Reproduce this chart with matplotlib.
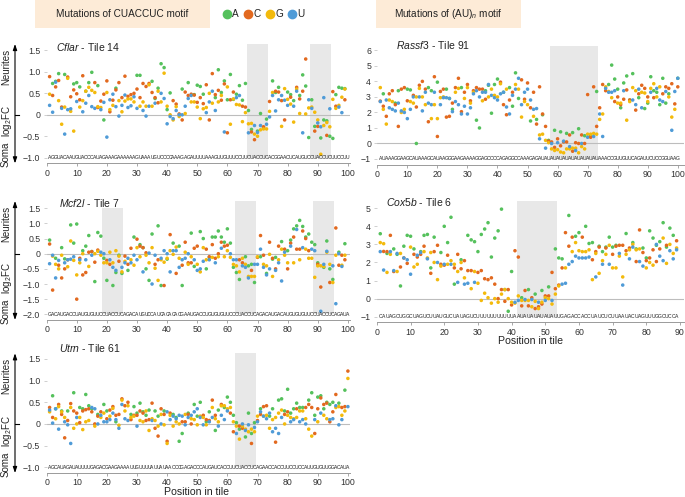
import matplotlib
matplotlib.use("Agg")
import matplotlib.pyplot as plt
import matplotlib.transforms as mtransforms
from matplotlib.patches import Rectangle
from matplotlib.lines import Line2D

plt.rcParams['font.family'] = ['Liberation Sans', 'DejaVu Sans']
plt.rcParams['mathtext.fontset'] = 'custom'
plt.rcParams['mathtext.rm'] = 'Liberation Sans'
plt.rcParams['mathtext.it'] = 'Liberation Sans:italic'

W, H = 685, 497

BASES = ['A', 'C', 'G', 'U']
BASE_COLORS = {'A': '#55c15c', 'C': '#e2691f', 'G': '#f3ba0c', 'U': '#4f9bd7'}

# ---- data: three mutant values per position (non wild-type bases, in A/C/G/U order)
cflar_seq = "AGGUACAAUGUACCCAUAGAAAGAAAAAAGUAAAUGUCCCCAAAGAGAUUUUAAAGUUGUUUCCUUCUACCUCACGGAACUCAUGUCCUACCUCUUCCUU"
cflar_motifs = [(67, 73), (88, 94)]
cflar_m1 = [0.89, 0.73, 0.78, 0.96, 0.18, 0.94, 0.88, 0.42, 0.72, 0.75,
            0.65, 0.91, 0.55, 0.75, 0.99, 0.75, 0.68, 0.32, -0.12, 0.79,
            0.07, 0.34, 0.62, 0.75, 0.40, 0.90, 0.43, 0.47, 0.50, 0.92,
            0.92, 0.73, 0.66, 0.73, 0.78, 0.38, 0.62, 1.19, 1.10, 0.12,
            0.51, 0.33, 0.25, 0.02, 0.60, 0.53, 0.75, 0.48, 0.47, 0.69,
            0.66, 0.48, 0.70, -0.12, 0.96, 0.40, 1.05, 0.52, 0.79, 0.35,
            0.94, 0.36, 0.48, 0.68, 0.34, 0.73, 0.10, -0.34, -0.58, -0.38,
            0.03, -0.30, -0.10, 0.31, 0.79, 0.52, 0.64, 0.33, -0.12, 0.53,
            0.47, 0.33, 0.64, 0.45, 0.93, 0.67, -0.53, 0.35, -0.27, -0.27,
            -0.54, -0.12, -0.14, -0.50, -0.55, 0.47, 0.64, 0.62, 0.61]
cflar_m2 = [0.48, 0.45, 0.65, 0.80, -0.22, 0.18, 0.85, 0.08, 0.58, 0.49,
            0.35, 0.33, 0.55, 0.64, 0.57, 0.52, 0.17, 0.17, 0.48, 0.52,
            0.12, 0.22, 0.58, 0.33, 0.07, 0.32, 0.37, 0.37, 0.30, 0.60,
            0.40, 0.30, 0.20, 0.70, 0.52, 0.40, 0.28, 0.30, 0.97, 0.20,
            0.00, -0.12, 0.19, -0.04, -0.12, 0.03, 0.45, 0.30, 0.46, 0.29,
            0.40, 0.26, 0.17, 0.50, 0.27, 0.47, 0.57, 0.34, 0.72, -0.42,
            0.35, 0.53, 0.24, 0.23, 0.20, 0.18, -0.21, -0.40, -0.45, -0.50,
            -0.35, -0.28, -0.33, 0.08, 0.52, 0.55, 0.53, -0.27, 0.61, 0.36,
            0.41, -0.17, 0.60, 0.37, 0.55, 1.30, 0.16, 0.18, -0.38, -0.12,
            -0.92, -0.25, -0.48, -0.28, 0.54, 0.20, 0.22, 0.41, 0.35]
cflar_m3 = [0.22, 0.06, 0.76, 0.33, 0.15, -0.45, 0.12, 0.14, -0.38, 0.31,
            0.18, 0.07, 0.27, 0.45, 0.19, 0.15, 0.19, 0.12, 0.29, -0.52,
            0.35, 0.48, 0.19, -0.03, 0.22, 0.46, 0.17, 0.21, 0.42, 0.15,
            0.20, 0.10, -0.03, 0.20, 0.20, 0.27, 0.55, 0.50, 0.38, -0.21,
            -0.04, -0.09, 0.10, 0.00, 0.00, 0.20, 0.38, 0.45, 0.30, 0.18,
            -0.09, 0.14, 0.05, 0.30, 0.55, 0.10, 0.30, 0.45, -0.40, 0.65,
            -0.22, 0.37, 0.40, 0.45, -0.16, 0.05, -0.42, -0.20, -0.25, -0.41,
            -0.25, -0.33, -0.22, -0.05, 0.45, 0.09, 0.35, 0.45, 0.34, 0.22,
            0.25, 0.20, 0.55, 0.03, -0.42, 0.02, 0.35, 0.15, 0.06, -0.19,
            -0.28, 0.40, -0.18, 0.14, 0.36, 0.15, 0.18, 0.05, 0.60]

mcf2l_seq = ("GACAUGACCUAUGUGUUC" + "CUACCUC" + "AGACAUGUCCAUCACACACGAAUGACCUGUGUGUUCC"
             + "CUACCUC" + "AGACAUGACAUGUGUGUUC" + "CUACCUC" + "AGAUA")
mcf2l_motifs = [(19, 25), (63, 69), (89, 95)]
mcf2l_m1 = [0.45, -1.2, -0.15, -0.38, 0.2, -0.17, -0.2, 0.95, 0.35, 0.98,
            -0.15, 0.1, 0.25, 0.6, 0.07, -0.92, 0.7, 0.58, -0.15, -0.88,
            -0.35, -1.05, -0.62, -0.05, -0.65, -0.08, -0.55, 0.18, 0.55, 0.48,
            0.3, 0.2, -0.5, -0.88, 0.65, -0.35, 0.92, -1.05, -1.05, -0.18,
            0.63, 0.35, -0.65, 0.25, -1.05, 0.38, -0.3, 0.68, -0.42, 0.25,
            0.73, 0.5, -0.5, -0.12, 0.55, 0.55, 0.75, 0.55, 0.38, 0.82,
            0.35, -0.45, -0.62, -0.85, -0.3, -0.1, -0.4, -0.35, -0.95, -0.12,
            -0.1, -0.05, -0.65, 0.38, -0.18, -0.12, 0.25, 0.4, 0.15, 0.1,
            0.45, 0.82, 0.92, 1.1, 0.9, 0.55, 0.65, 0.38, 0.3, -0.3,
            -1.1, -0.45, 0.42, -0.5, -0.85, 0.85, 0.05, -0.05, 0.33]
mcf2l_m2 = [0.32, -0.08, -0.35, -0.5, -0.8, -0.5, -0.43, 0.42, -0.22, -1.5,
            -0.3, -0.7, -0.62, 0.05, 0.07, -0.28, 0.12, -0.05, -0.3, -0.22,
            0.05, -0.3, 0.1, -0.25, -0.6, -0.25, -0.35, -0.2, -0.38, 0.2,
            0.25, 0.2, 0.03, -0.3, 0.2, -0.48, -0.2, -0.2, -0.28, -0.15,
            0.1, -0.02, 0.22, -0.15, -0.38, 0.05, -0.35, -0.3, 0.18, -0.35,
            -0.6, 0.2, 0.15, -0.1, 0.3, -0.15, 0.0, 0.38, 0.25, 0.28,
            -0.12, -0.35, -0.4, -0.2, -0.15, -0.35, -0.75, -0.55, -0.75, -0.1,
            0.6, -0.35, -0.4, -0.02, -0.15, -0.5, -0.2, 0.15, -0.05, -0.5,
            0.35, 0.55, 0.15, 0.15, 0.75, 0.5, 0.1, -0.15, -0.78, -0.35,
            -0.4, -0.42, 0.05, -0.95, -0.95, -0.05, -0.38, -0.38, -0.2]
mcf2l_m3 = [-0.33, -0.05, -0.8, -0.22, -0.05, -0.3, -0.2, -0.18, -0.1, -0.7,
            -0.2, 0.0, -0.2, -0.42, -0.05, 0.0, 0.08, 0.05, 0.0, -0.3,
            -0.2, -0.45, -0.55, -0.08, -0.45, -0.3, -0.15, -0.3, -0.05, -0.2,
            -0.1, -0.6, -0.05, 0.02, -1.0, -0.05, -0.88, -0.15, 0.1, 0.0,
            -0.6, 0.1, 0.1, -0.45, -0.2, -0.15, 0.0, -0.1, -0.2, -0.55,
            -0.5, -0.25, -0.2, -0.2, -0.12, -0.3, -0.1, 0.18, -0.1, 0.1,
            0.0, -0.2, -0.2, -0.6, -0.4, -0.45, -0.8, -0.75, -0.35, -0.35,
            0.15, -0.45, -0.7, -0.5, -0.75, -0.55, -0.3, -0.9, 0.05, -0.3,
            0.25, -0.3, 0.8, -0.2, 0.2, 0.15, -0.15, 0.15, 0.1, -0.4,
            -1.9, -0.35, 0.08, -0.35, -0.4, -1.65, 0.0, -0.42, -0.05]

utrn_seq = ("AGCAUAGAUAUUUUGAGACGAAGAAAAUUGUUUUAUUAUAACCCGAGACCCAUGAUCACCUU"
            + "CUACCUC" + "AGAACCACCUUCCUCCAUUGUGUUGGACAUA")
utrn_motifs = [(63, 69)]
utrn_m1 = [0.38, 0.65, 0.35, 0.45, 0.3, -0.32, 0.3, 0.47, 0.72, 0.25,
           0.38, 0.35, 0.68, 0.42, 0.35, 0.0, 0.22, 0.28, 0.45, 0.3,
           0.32, 0.4, 0.05, 0.22, 0.58, 0.42, 0.5, 0.22, 0.4, 0.25,
           0.48, 0.28, 0.2, 0.32, 0.48, 0.3, 0.18, 0.35, 0.3, -0.4,
           0.25, 0.22, 0.15, -0.4, -0.22, 0.05, 0.25, 0.0, 0.45, 0.18,
           0.5, 0.2, 0.05, 0.28, 0.55, -0.15, 0.32, 0.45, 0.38, 0.62,
           0.5, 0.2, 0.03, -0.12, -0.1, -0.3, 0.25, -0.22, 0.03, 0.08,
           0.35, 0.4, 0.42, 0.18, 0.35, -0.42, 0.55, 0.58, 0.3, 0.8,
           0.25, 0.35, 0.48, 0.38, 0.38, 0.38, 0.55, 0.72, 0.2, 0.62,
           0.65, 0.35, 0.5, 0.45, 0.5, 0.68, 0.48, 0.38, 0.78, 1.22]
utrn_m2 = [0.28, 0.15, 0.12, 0.4, 0.22, 0.15, 0.08, 0.38, 0.3, 0.0,
           0.03, 0.3, 0.33, 0.35, 0.28, -0.05, 0.18, 0.15, 0.25, 0.12,
           0.18, 0.36, 0.2, -0.03, 0.55, 0.3, 0.42, 0.1, 0.2, 0.2,
           0.3, 0.25, 0.08, 0.1, 0.12, -0.1, -0.28, 0.22, 0.22, -0.45,
           0.2, -0.05, 0.05, 0.0, 0.05, 0.22, 0.22, 0.12, 0.1, -0.02,
           0.18, 0.15, 0.1, 0.08, 0.38, 0.2, 0.05, 0.42, 0.42, 0.35,
           0.25, -0.18, -0.05, -0.05, -0.05, -0.12, -0.18, -0.45, -0.18, 0.18,
           0.22, 0.18, 0.2, -0.1, 0.1, 0.15, 0.25, 0.32, 0.22, 0.28,
           0.15, 0.12, 0.35, 0.3, 0.3, 0.12, 0.45, 0.38, -0.22, 0.35,
           0.6, 0.45, 0.48, 0.05, 0.28, 0.38, 0.4, 0.2, 0.4, 1.05]
utrn_m3 = [0.32, 0.02, 0.35, -0.12, 0.28, 0.05, -0.02, -0.45, -0.1, 0.15,
           0.15, -0.13, 0.05, 0.08, 0.38, 0.35, 0.0, 0.2, 0.05, 0.05,
           0.1, 0.25, 0.1, -0.1, 0.45, 0.12, 0.08, 0.15, 0.18, -0.05,
           0.08, 0.05, 0.3, -0.15, 0.08, 0.08, -0.05, 0.0, -0.02, 0.28,
           0.1, 0.18, 0.12, 0.2, 0.18, -0.02, 0.15, 0.2, 0.28, 0.35,
           0.15, -0.02, -0.02, 0.05, 0.15, 0.12, -0.05, 0.2, 0.1, 0.3,
           0.38, 0.05, -0.22, -0.35, 0.0, -0.15, -0.02, -0.12, -0.08, 0.05,
           0.28, 0.18, 0.12, 0.25, -0.18, -0.1, -0.22, 0.15, 0.0, 0.2,
           0.05, 0.1, 0.15, 0.05, 0.1, 0.0, -0.12, -0.28, 0.1, 0.05,
           0.25, 0.2, 0.12, 0.1, 0.12, 0.42, -0.02, 0.1, 0.3, 0.4]

rassf3_seq = ("AUAAAGGAAGCAUAAAGCAUAAGGGAAGAAAAGGAGCCCCAGAGGCCAAAGAGAUAU"
              + "AUAUAUAUAUAUAUAU" + "AAACCGUUGUUCAGAUUCUCCGGUAAG")
rassf3_motifs = [(58, 73)]
rassf3_m1 = [2.73, 3.2, 1.75, 3.2, 3.4, 2.6, 3.4, 3.5, 3.6, 3.5,
             3.45, 3.1, 0.0, 3.75, 4.0, 3.5, 3.6, 3.4, 4.3, 3.95,
             3.35, 3.5, 3.5, 2.9, 2.2, 3.6, 4.2, 3.6, 3.3, 3.8,
             2.75, 3.4, 1.5, 1.0, 3.5, 3.4, 3.75, 1.95, 3.8, 4.15,
             3.95, 3.3, 1.85, 3.6, 2.4, 4.55, 2.9, 4.1, 2.85, 3.9,
             1.45, 3.3, 1.55, 3.65, 1.85, 1.1, 0.2, 0.1, 0.85, 0.3,
             0.75, 0.1, 0.65, 0.55, 0.7, 0.05, 0.95, 0.55, 0.5, 3.15,
             0.5, 3.65, 3.35, 2.3, 3.8, 3.4, 3.8, 5.05, 4.15, 3.5,
             2.3, 3.9, 4.35, 2.8, 4.5, 2.15, 2.95, 3.75, 2.25, 2.6,
             4.3, 3.4, 3.3, 2.5, 4.2, 2.6, 3.2, 3.85, 2.55, 4.2]
rassf3_m2 = [3.6, 2.4, 1.25, 2.8, 2.7, 2.5, 1.1, 2.0, 2.2, 2.75,
             2.7, 2.6, 2.35, 3.55, 3.0, 2.5, 1.4, 1.6, 2.5, 0.45,
             2.95, 3.0, 1.7, 1.75, 2.6, 3.3, 3.55, 2.05, 2.9, 3.6,
             2.6, 3.3, 3.6, 3.5, 2.75, 2.85, 3.0, 3.5, 3.1, 3.0,
             3.85, 2.5, 3.5, 2.8, 3.3, 3.8, 3.5, 1.7, 2.7, 2.5,
             2.3, 1.75, 1.25, 0.55, 1.9, 0.2, 0.15, -0.35, -0.25, -0.4,
             -0.15, -0.6, 0.1, -0.35, -0.5, -0.3, 0.0, -0.2, 0.0, 0.6,
             0.4, 0.65, 1.1, 1.55, 1.9, 3.65, 3.35, 2.95, 2.7, 3.0,
             2.5, 2.85, 3.45, 2.8, 3.6, 3.4, 3.2, 3.3, 3.55, 3.0,
             3.55, 2.95, 3.0, 3.65, 3.2, 3.65, 3.55, 1.7, 2.2, 3.65]
rassf3_m3 = [2.7, 2.2, 2.8, 2.3, 2.2, 2.1, 2.6, 2.1, 2.0, 1.6,
             2.2, 3.0, 3.0, 3.0, 2.1, 3.3, 2.6, 2.5, 3.3, 1.6,
             2.5, 2.95, 2.95, 2.9, 2.05, 2.7, 2.5, 1.9, 2.4, 1.9,
             2.3, 3.2, 3.4, 3.0, 3.3, 3.3, 3.8, 3.1, 2.95, 2.8,
             3.2, 3.3, 2.35, 1.9, 3.1, 3.5, 4.2, 2.5, 3.3, 3.5,
             2.8, 2.2, 2.25, 0.3, 0.6, -0.3, 0.05, 0.0, -0.45, 0.05,
             -0.55, 0.15, -0.35, -0.2, -0.3, -0.45, -0.6, 0.0, -0.35, 0.4,
             0.6, 0.45, 0.6, 1.9, 0.45, 3.55, 3.3, 3.3, 3.4, 2.6,
             2.6, 3.4, 1.5, 2.7, 2.8, 2.5, 3.5, 2.3, 3.25, 2.7,
             3.3, 3.85, 3.55, 2.8, 2.7, 3.35, 3.0, 0.85, 3.35, 4.2]

cox5b_seq = ("CAUAGCUGGCUAGUCUUAUGUCUAUAGUCUUUUUUUUUUUA" + "AUAUAUAUAUAU"
             + "UGAGACCACCUAUCUCUUAAUACUAGUUUGGCUCCA")
cox5b_motifs = [(42, 53)]
cox5b_m1 = [3.59, 2.61, 2.5, 3.5, 2.75, 2.45, 0.7, 2.9, 3.5, 3.45,
            2.75, 2.3, 2.6, 3.5, 3.55, 1.7, 3.4, 2.95, 2.55, 4.0,
            3.1, 4.5, 0.8, 2.45, 2.15, 2.1, 3.5, 3.25, 3.15, 2.6,
            3.55, 3.85, 4.2, 2.3, 3.35, 3.75, 4.95, 0.5, -0.7, 1.5,
            2.65, 2.3, 0.05, 0.45, 0.5, 0.05, 0.25, -0.45, 0.45, 0.15,
            0.65, 1.45, 2.75, 2.25, 2.2, 3.65, 4.6, 3.4, 3.45, 3.65,
            3.4, 4.0, 3.05, 3.1, 2.6, 2.9, 2.6, 2.85, 3.4, 2.85,
            2.95, 2.95, 2.95, 3.6, 2.8, 3.1, 2.75, 3.8, 2.8, 2.25,
            3.75, 3.35, 2.95, 3.15, 4.2, 2.85, 3.9, 3.5, 3.2]
cox5b_m2 = [3.1, 3.04, 2.6, 2.45, 1.5, 1.5, 1.75, 2.25, 1.95, 2.85,
            2.45, 1.9, 2.45, 2.9, 2.25, 1.4, 2.6, 1.05, 1.9, 1.85,
            2.4, 2.1, 1.7, 1.5, 1.65, 1.15, 1.55, 1.55, 1.5, 1.45,
            1.55, 1.1, 1.05, 1.15, 0.8, 0.0, 0.5, -0.15, 0.5, -0.35,
            -0.25, 0.15, -0.4, -0.1, -0.4, -0.45, -0.55, -0.55, -0.3, 0.05,
            0.15, -0.3, 0.55, 0.75, 1.7, 1.7, 2.9, 2.6, 3.1, 2.65,
            2.6, 2.6, 2.7, 2.15, 2.5, 2.85, 2.1, 2.8, 2.95, 2.45,
            2.9, 2.35, 1.2, 2.65, 2.7, 3.0, 2.05, 2.75, 2.55, 2.1,
            2.25, 2.7, 2.05, 2.75, 3.35, 2.95, 3.0, 2.5, 2.8]
cox5b_m3 = [2.6, 1.58, 1.45, 2.6, 1.55, 2.5, 2.5, 2.25, 2.15, 1.35,
            1.75, 2.4, 2.55, 2.6, 2.2, 2.55, 2.0, 2.0, 1.8, 1.9,
            1.9, 1.9, 1.9, 0.9, 2.0, 0.8, 0.85, 0.55, 0.9, 0.85,
            -0.1, 0.3, 0.05, -0.25, 0.0, -0.2, 0.25, 0.5, 0.0, -0.2,
            -0.2, -0.1, -0.1, -0.05, -0.1, -0.05, -0.15, -0.2, -0.2, -0.1,
            0.0, -0.1, 0.25, 0.7, 0.8, 0.85, 1.9, 2.05, 2.35, 2.25,
            2.25, 2.25, 2.3, 1.05, 1.2, 1.4, 1.9, 2.45, 1.9, 1.7,
            1.7, 2.5, 0.75, 2.45, 2.2, 2.85, 2.7, 2.05, 1.8, 1.7,
            2.0, 1.85, 3.0, 2.35, 2.1, 1.95, 2.65, 2.2, 2.7]

# ---- layout, in pixels of the 685x497 picture: (left, top, right, bottom)
panels = [
    dict(gene='Cflar', tile='14', seq=cflar_seq, motifs=cflar_motifs,
         vals=(cflar_m1, cflar_m2, cflar_m3), box=(46.6, 44, 350, 157.7),
         xlim=(0, 100.7), ylim=(-1, 1.65), yticks=[-1, -0.5, 0, 0.5, 1, 1.5], dec=1,
         xticks=range(0, 101, 10), title_xy=(0.03, 0.975), side=True),
    dict(gene='Mcf2l', tile='7', seq=mcf2l_seq, motifs=mcf2l_motifs,
         vals=(mcf2l_m1, mcf2l_m2, mcf2l_m3), box=(46.6, 201, 350, 314.3),
         xlim=(0, 100.7), ylim=(-2, 1.74), yticks=[-2, -1.5, -1, -0.5, 0, 0.5, 1, 1.5], dec=1,
         xticks=range(0, 101, 10), title_xy=(0.04, 0.98), side=True, clip_top=1.5),
    dict(gene='Utrn', tile='61', seq=utrn_seq, motifs=utrn_motifs,
         vals=(utrn_m1, utrn_m2, utrn_m3), box=(46.6, 353.3, 350, 467.3),
         xlim=(0, 100.7), ylim=(-1, 1.63), yticks=[-1, -0.5, 0, 0.5, 1, 1.5], dec=1,
         xticks=range(0, 101, 10), title_xy=(0.04, 1.045), side=True,
         xlabel=(197, 492)),
    dict(gene='Rassf3', tile='91', seq=rassf3_seq, motifs=rassf3_motifs,
         vals=(rassf3_m1, rassf3_m2, rassf3_m3), box=(377.3, 46, 683.5, 159),
         xlim=(0, 101.9), ylim=(-1, 6.28), yticks=list(range(-1, 7)), dec=0,
         xticks=range(0, 101, 10), title_xy=(0.06, 1.005), side=False),
    dict(gene='Cox5b', tile='6', seq=cox5b_seq, motifs=cox5b_motifs,
         vals=(cox5b_m1, cox5b_m2, cox5b_m3), box=(376.9, 201, 683.5, 316.7),
         xlim=(0, 91.05), ylim=(-1, 5.4), yticks=list(range(-1, 6)), dec=0,
         xticks=range(0, 91, 10), title_xy=(0.03, 0.995), side=False,
         xlabel=(531, 341)),
]

GRAY = '#9a9a9a'
TXT = '#333333'


def fmt(v, dec):
    if v == 0:
        return '0'
    s = f'{abs(v):.{dec}f}'
    return ('\u2212' + s) if v < 0 else s


fig = plt.figure(figsize=(W / 100, H / 100), dpi=100)

for p in panels:
    l, t, r, b = p['box']
    ax = fig.add_axes([l / W, 1 - b / H, (r - l) / W, (b - t) / H])
    ax.set_xlim(*p['xlim'])
    ax.set_ylim(*p['ylim'])
    y0, y1 = p['ylim']

    for s, e in p['motifs']:
        top = 1.0
        if 'clip_top' in p and s < 35:
            top = (p['clip_top'] - y0) / (y1 - y0)
        ax.axvspan(s - 0.5, e + 0.5, ymin=0, ymax=top, color='#e8e8e8', lw=0, zorder=0)

    ax.axhline(0, color='#bdbdbd', lw=0.8, zorder=1)

    seq = p['seq']
    xs, ys, cs = [], [], []
    for i, trio in enumerate(zip(*p['vals'])):
        wt = seq[i] if i < len(seq) else 'A'
        muts = [bb for bb in BASES if bb != wt]
        for base, v in zip(muts, trio):
            xs.append(i + 1)
            ys.append(v)
            cs.append(BASE_COLORS[base])
    ax.scatter(xs, ys, s=6.5, c=cs, linewidths=0, zorder=3)

    for i, ch in enumerate(seq):
        ax.text(i + 1, y0, ch, fontsize=3.6, ha='center', va='center', color='#222222',
                zorder=4, clip_on=False)

    ax.text(p['title_xy'][0], p['title_xy'][1], rf"$\it{{{p['gene']}}}$ - Tile {p['tile']}",
            transform=ax.transAxes, fontsize=7.5, ha='left', va='center', color='#222222')

    for side in ['top', 'right', 'left']:
        ax.spines[side].set_visible(False)
    ax.spines['bottom'].set_position(('outward', 4))
    ax.spines['bottom'].set_color(GRAY)
    ax.spines['bottom'].set_linewidth(0.7)
    ax.set_xticks(list(p['xticks']))
    ax.set_yticks(p['yticks'])
    ax.set_yticklabels([fmt(v, p['dec']) for v in p['yticks']])
    ax.tick_params(axis='x', length=2.5, width=0.6, color=GRAY, labelsize=6.3,
                   labelcolor=TXT, pad=1.5)
    ax.tick_params(axis='y', length=2.5, width=0.6, color='#c8c8c8', labelsize=6.3,
                   labelcolor=TXT, pad=2)

    if p['side']:
        tr = mtransforms.blended_transform_factory(fig.transFigure, ax.transAxes)
        fig.text(6 / W, 0.80, 'Neurites', rotation=90, ha='center', va='center',
                 fontsize=7, color='#222222', transform=tr)
        fig.text(7 / W, 0.32, r'log$_2$FC', rotation=90, ha='center', va='center',
                 fontsize=7, color='#222222', transform=tr)
        fig.text(6 / W, 0.03, 'Soma', rotation=90, ha='center', va='center',
                 fontsize=7, color='#222222', transform=tr)
        ax.annotate('', xy=(15 / W, 1.0), xytext=(15 / W, -0.05), xycoords=tr, textcoords=tr,
                    arrowprops=dict(arrowstyle='<|-|>,head_length=0.35,head_width=0.12',
                                    color='black', lw=0.8, shrinkA=0, shrinkB=0))
        zf = (0 - y0) / (y1 - y0)
        fig.add_artist(Line2D([15 / W, 19 / W], [zf, zf], transform=tr, color='black', lw=0.8))

    if 'xlabel' in p:
        fig.text(p['xlabel'][0] / W, 1 - p['xlabel'][1] / H, 'Position in tile',
                 ha='center', va='center', fontsize=7.6, color='#222222')

# ---- header boxes and legend
fig.add_artist(Rectangle((35 / W, 1 - 28 / H), 175 / W, 28 / H, transform=fig.transFigure,
                         facecolor='#fdebd7', edgecolor='none'))
fig.text(122 / W, 1 - 14 / H, 'Mutations of CUACCUC motif', ha='center', va='center',
         fontsize=7.2, color='#222222')
fig.add_artist(Rectangle((376 / W, 1 - 28 / H), 145 / W, 28 / H, transform=fig.transFigure,
                         facecolor='#fdebd7', edgecolor='none'))
fig.text(448 / W, 1 - 14 / H, r'Mutations of (AU)$_n$ motif', ha='center', va='center',
         fontsize=7.2, color='#222222')

for xpx, base in zip([227, 248, 270, 292], BASES):
    fig.add_artist(Line2D([xpx / W], [1 - 14 / H], marker='o', markersize=6, lw=0,
                          color=BASE_COLORS[base], transform=fig.transFigure))
    fig.text((xpx + 5) / W, 1 - 14 / H, base, ha='left', va='center', fontsize=7.2,
             color='#222222')

fig.savefig('out.png', dpi=100)
